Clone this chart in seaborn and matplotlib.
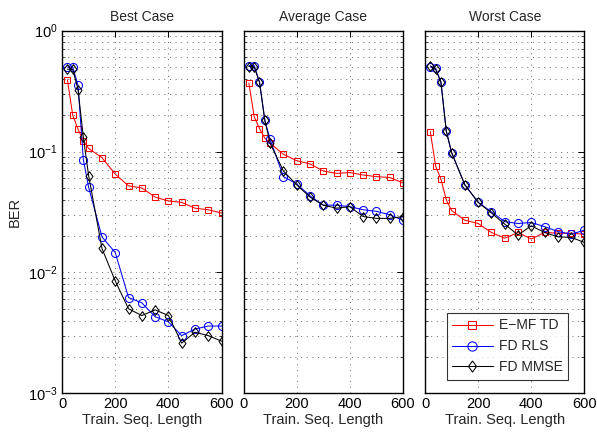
import numpy as np
import pandas as pd
import seaborn as sns
import matplotlib.pyplot as plt
from matplotlib.ticker import LogLocator, NullFormatter

# training sequence lengths
seq_len = [20, 40, 60, 80, 100, 150, 200, 250, 300, 350, 400, 450, 500, 550, 600]

panel_titles = ["Best Case", "Average Case", "Worst Case"]
series_names = ["E\u2212MF TD", "FD RLS", "FD MMSE"]

# BER values
best_td = [0.393, 0.200, 0.153, 0.123, 0.106, 0.089, 0.065, 0.052, 0.050, 0.042, 0.039, 0.038, 0.034, 0.033, 0.031]
best_rls = [0.50, 0.50, 0.353, 0.0855, 0.0506, 0.0197, 0.0146, 0.0062, 0.0056, 0.0043, 0.0039, 0.0030, 0.0034, 0.0036, 0.0036]
best_mmse = [0.48, 0.48, 0.325, 0.131, 0.063, 0.0158, 0.0085, 0.0050, 0.0044, 0.0049, 0.0044, 0.0026, 0.0032, 0.0030, 0.0027]

avg_td = [0.369, 0.194, 0.155, 0.129, 0.117, 0.095, 0.084, 0.079, 0.069, 0.066, 0.067, 0.064, 0.062, 0.061, 0.055]
avg_rls = [0.515, 0.515, 0.376, 0.182, 0.126, 0.062, 0.054, 0.043, 0.036, 0.036, 0.035, 0.033, 0.032, 0.030, 0.027]
avg_mmse = [0.505, 0.50, 0.376, 0.182, 0.117, 0.069, 0.053, 0.042, 0.036, 0.034, 0.035, 0.029, 0.028, 0.028, 0.029]

worst_td = [0.146, 0.076, 0.059, 0.040, 0.0325, 0.027, 0.0254, 0.0214, 0.0192, 0.0214, 0.0189, 0.0214, 0.0211, 0.0211, 0.0207]
worst_rls = [0.50, 0.49, 0.374, 0.148, 0.098, 0.053, 0.038, 0.0317, 0.0263, 0.0254, 0.0259, 0.0239, 0.0218, 0.0207, 0.0224]
worst_mmse = [0.51, 0.48, 0.374, 0.148, 0.098, 0.053, 0.038, 0.031, 0.0251, 0.0204, 0.0243, 0.0214, 0.0197, 0.0195, 0.0177]

panels = [
    (best_td, best_rls, best_mmse),
    (avg_td, avg_rls, avg_mmse),
    (worst_td, worst_rls, worst_mmse),
]

# matlab-like diamond (taller than wide)
diamond = [(0, 1), (0.72, 0), (0, -1), (-0.72, 0), (0, 1)]

styles = [
    dict(color="#ff0000", marker="s", markersize=4.8),
    dict(color="#0000ff", marker="o", markersize=5.8),
    dict(color="#000000", marker=diamond, markersize=7),
]

sns.set_theme(style="white")
plt.rcParams["font.family"] = ["Liberation Sans", "DejaVu Sans"]
plt.rcParams["mathtext.fontset"] = "custom"
plt.rcParams["mathtext.rm"] = "Liberation Sans"
plt.rcParams["mathtext.it"] = "Liberation Sans:italic"

fig, axes = plt.subplots(1, 3, figsize=(5.97, 4.32), dpi=100, sharey=True)
fig.subplots_adjust(left=0.104, right=0.979, top=0.929, bottom=0.0896, wspace=0.138)

grid_ls = (0, (1.4, 6))

for ax, title, vals in zip(axes, panel_titles, panels):
    for name, y, st in zip(series_names, vals, styles):
        df = pd.DataFrame({"len": seq_len, "ber": y})
        sns.lineplot(data=df, x="len", y="ber", ax=ax, label=name,
                     color=st["color"], marker=st["marker"],
                     markersize=st["markersize"], markerfacecolor="none",
                     markeredgecolor=st["color"], markeredgewidth=0.75,
                     linewidth=0.75, legend=False)
    ax.set_yscale("log")
    ax.set_ylim(1e-3, 1)
    ax.set_xlim(0, 600)
    ax.set_xticks([0, 200, 400, 600])
    ax.yaxis.set_major_locator(LogLocator(base=10, numticks=10))
    ax.yaxis.set_minor_locator(LogLocator(base=10, subs=np.arange(2, 10), numticks=20))
    ax.yaxis.set_minor_formatter(NullFormatter())
    ax.set_title(title, fontsize=10, pad=7)
    ax.set_xlabel("Train. Seq. Length", fontsize=10.5, labelpad=1)
    ax.set_ylabel("")
    ax.tick_params(axis="both", which="major", direction="in", length=4,
                   width=0.7, top=True, right=True, labelsize=10.5, pad=3,
                   colors="black")
    ax.tick_params(axis="y", which="minor", direction="in", length=2,
                   width=0.6, left=True, right=True)
    ax.grid(True, which="major", axis="both", color="0.3",
            linestyle=grid_ls, linewidth=0.55)
    ax.grid(True, which="minor", axis="y", color="0.3",
            linestyle=grid_ls, linewidth=0.55)
    for sp in ax.spines.values():
        sp.set_color("black")
        sp.set_linewidth(1.0)
    ax.set_axisbelow(True)

axes[0].set_ylabel("BER", fontsize=10.5, labelpad=5)

handles, labels = axes[2].get_legend_handles_labels()
leg = axes[2].legend(handles, labels, loc="lower right", fontsize=10,
                     frameon=True, fancybox=False, edgecolor="black",
                     handlelength=2.9, handletextpad=0.45, borderpad=0.4,
                     labelspacing=0.5, borderaxespad=0, markerscale=1.15,
                     bbox_to_anchor=(0.898, 0.037))
leg.get_frame().set_linewidth(0.8)

fig.savefig("out.png", dpi=100)
